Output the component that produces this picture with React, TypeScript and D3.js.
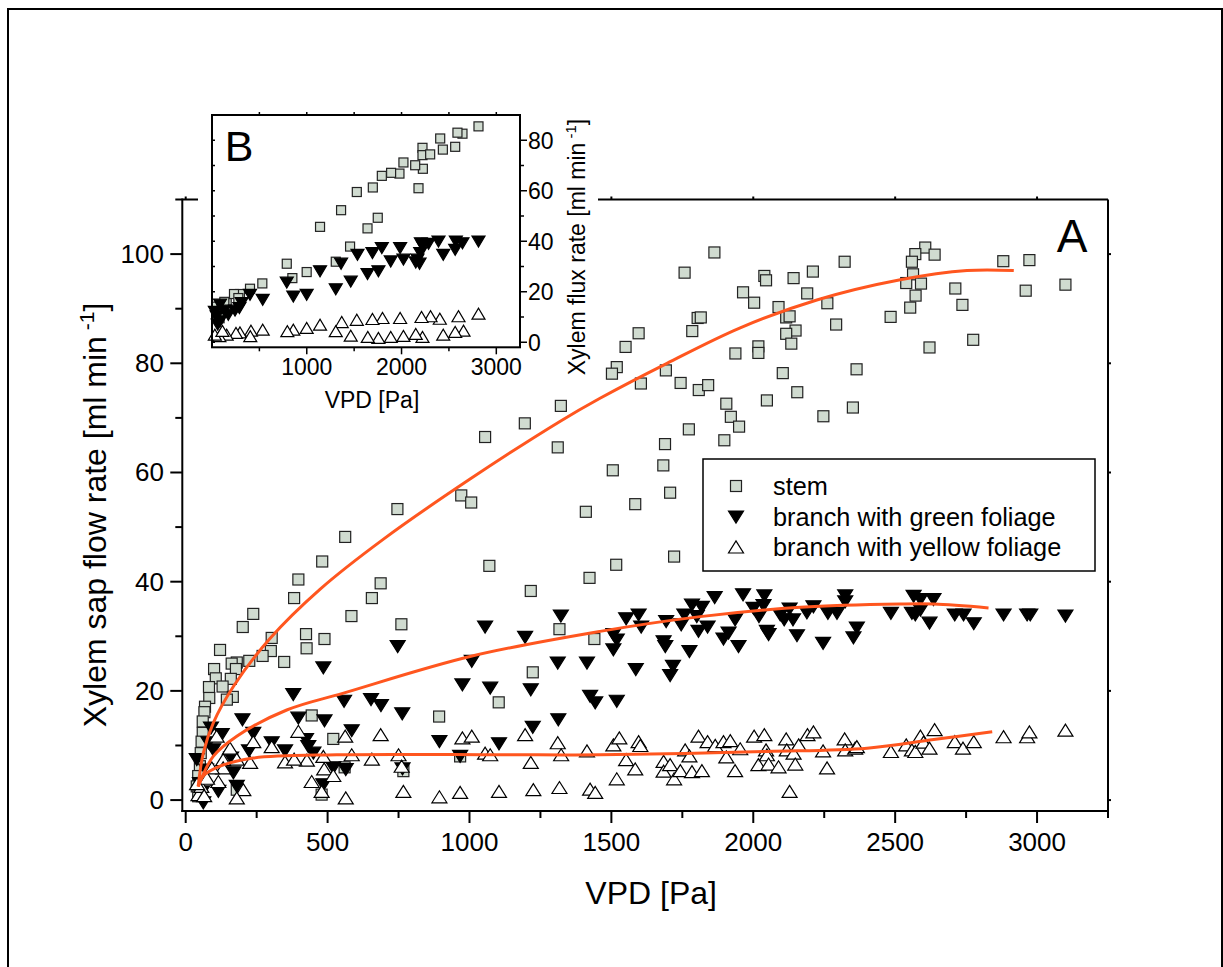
import React from "react";
import * as d3 from "d3";

// ---------- main panel (A) data: [VPD Pa, sap flow ml/min] ----------
const stemMain: [number, number][] = [
  [1519,79.3],[1502,78.1],[1322,72.2],[1195,69.0],[1311,64.6],[1055,66.5],[1505,60.4],[971,55.8],[1006,54.5],[1410,52.8],[746,53.3],[562,48.2],
  [481,43.7],[397,40.4],[382,37.0],[238,34.1],[201,31.7],[121,27.5],[687,39.7],[656,37.0],[584,33.7],[760,32.2],[424,30.4],[303,29.7],[489,29.5],[426,27.8],[300,27.3],[271,26.4],[347,25.3],[224,25.5],[180,25.2],[162,25.0],[177,24.0],[100,24.0],[106,22.3],[159,22.2],[130,20.8],[82,20.7],[166,18.9],[145,18.4],[83,18.7],[68,17.1],[66,16.1],[60,14.4],[60,12.3],[56,10.7],[53,8.6],[50,6.2],[44,4.4],[39,2.5],[44,0.7],[180,1.9],[444,15.5],[520,11.2],[893,15.3],[1070,42.9],[1216,38.3],[1317,31.3],[1223,23.4],[1103,17.9],[1423,40.7],[1440,29.5],[1517,43.1],[967,8.0],[767,5.3],[479,1.0],[560,6.0],
  [1863,100.3],[1758,96.6],[2606,101.2],[2571,100.0],[2639,99.9],[2559,98.6],[2322,98.6],[2881,98.7],[2973,98.9],[3100,94.4],[2960,93.3],[2563,96.3],[2539,94.7],[2591,94.6],[2572,92.4],[2553,90.2],[2484,88.5],[2712,93.7],[2737,90.7],[2775,84.3],[2621,82.9],[2210,96.8],[2142,95.6],[2039,96.0],[2045,95.2],[2190,92.8],[1964,93.0],[2003,91.1],[2261,91.0],[2089,90.3],[2116,88.4],[2128,88.6],[2292,87.1],[1804,88.3],[1815,88.4],[1785,85.9],[2149,86.0],[2116,85.4],[2134,83.6],[1596,85.5],[1550,83.0],[1692,78.7],[1604,76.3],[1744,76.4],[1808,75.1],[1841,76.0],[1937,81.8],[2018,83.1],[2018,81.9],[2104,78.2],[2364,78.9],[2155,74.7],[1905,72.6],[1921,70.2],[1950,68.4],[1898,65.9],[2048,73.2],[2247,70.3],[2351,71.9],[1773,67.9],[1689,65.2],[1683,61.3],[1707,56.3],[1584,54.2],[1721,44.6]
];
const greenMain: [number, number][] = [
  [1322,33.7],[1055,31.7],[747,28.1],[1196,29.8],[1507,30.3],[1507,27.5],[485,24.2],[1008,25.4],[1311,25.1],[1414,25.1],[975,21.1],[1073,20.5],[1216,20.2],[379,19.3],[558,18.1],[653,18.4],[688,17.3],[763,15.8],[1425,19.0],[1443,17.8],[1519,18.1],[200,14.7],[397,15.0],[489,14.5],[585,12.7],[1313,14.7],[1223,13.3],[894,10.7],[1104,10.3],[238,12.2],[127,12.0],[89,13.2],[303,10.5],[350,9.0],[424,11.1],[432,9.8],[450,8.6],[223,9.0],[97,9.2],[160,7.7],[168,5.0],[115,1.6],[180,2.5],[485,2.8],[520,5.9],[564,5.6],[764,5.7],[967,8.0],[62,-0.5],[39,7.4],[50,3.0],[72,5.5],[80,10.5],[58,1.5],
  [1586,23.9],[1717,24.5],[1707,22.8],[1519,29.3],[1552,33.2],[1596,33.9],[1605,31.7],[1684,29.0],[1690,28.1],[1693,32.7],[1746,32.1],[1757,33.9],[1775,27.2],[1784,35.7],[1807,30.9],[1801,33.6],[1819,35.3],[1839,31.7],[1864,37.1],[1895,29.5],[1913,30.6],[1948,28.1],[1936,33.0],[1964,37.6],[2001,35.1],[2020,33.6],[2039,37.4],[2036,35.6],[2048,30.9],[2054,30.3],[2095,33.9],[2109,33.0],[2128,35.0],[2140,33.0],[2154,30.1],[2189,34.3],[2212,35.4],[2246,28.7],[2263,34.2],[2295,34.2],[2324,37.4],[2324,36.3],[2365,31.5],[2353,29.7],[2485,34.2],[2559,34.2],[2565,37.3],[2589,36.7],[2635,36.7],[2589,34.8],[2571,33.9],[2621,32.4],[2710,33.9],[2741,33.9],[2777,32.3],[2882,33.9],[2965,33.9],[2976,33.9],[3100,33.7]
];
const yellowMain: [number, number][] = [
  [687,12.0],[397,12.6],[562,11.7],[975,11.4],[1008,11.7],[1196,12.0],[1311,10.5],[1414,9.0],[1507,10.1],[1055,8.6],[1073,8.3],[1323,8.3],[1216,6.9],[750,8.3],[761,6.2],[656,7.5],[585,8.3],[485,8.0],[427,7.3],[350,7.0],[382,7.5],[303,9.8],[238,10.7],[227,6.9],[156,9.5],[180,7.5],[132,7.4],[132,5.9],[92,5.9],[115,3.4],[488,5.7],[520,4.5],[444,3.4],[479,1.6],[564,0.4],[767,1.6],[894,0.6],[967,1.4],[1104,1.6],[1225,1.9],[1317,2.3],[1425,2.0],[1443,1.4],[1519,3.9],[203,1.9],[180,0.4],[109,11.7],[45,1.0],[55,2.5],[65,0.8],[75,4.0],[40,3.0],
  [1528,11.4],[1552,7.4],[1584,5.7],[1596,10.7],[1602,10.0],[1684,7.1],[1684,5.3],[1707,6.5],[1721,3.9],[1743,5.4],[1760,9.2],[1775,8.1],[1784,5.2],[1807,11.7],[1819,5.4],[1839,10.7],[1866,10.0],[1895,10.7],[1919,10.9],[1905,7.9],[1936,5.4],[1954,9.4],[2003,11.7],[2039,12.0],[2018,6.5],[2045,9.2],[2048,8.3],[2054,6.6],[2089,6.1],[2116,11.2],[2118,9.2],[2142,8.6],[2148,6.6],[2128,1.6],[2160,10.1],[2191,12.0],[2212,12.5],[2246,9.0],[2260,5.9],[2322,11.2],[2324,9.2],[2359,9.5],[2365,9.8],[2485,8.9],[2539,10.1],[2559,9.2],[2571,8.9],[2589,11.7],[2600,10.6],[2621,9.5],[2639,12.9],[2710,10.7],[2739,9.5],[2777,10.7],[2882,11.6],[2965,11.6],[2973,12.5],[3100,12.8]
];
const stemFit: [number, number][] = [[44,2.5],[62,8.6],[97,14.1],[168,20.8],[297,29.6],[473,38.6],[697,47.8],[1002,58.8],[1320,69.4],[1460,73.6],[1696,80.0],[1954,86.5],[2224,91.6],[2518,95.3],[2753,97.0],[2918,97.0]];
const greenFit: [number, number][] = [[44,2.5],[97,8.0],[180,11.7],[356,16.5],[556,19.6],[1002,26.3],[1460,30.9],[1813,33.6],[2166,35.3],[2518,35.9],[2636,35.9],[2829,35.2]];
const yellowFit: [number, number][] = [[44,2.5],[62,4.4],[121,6.2],[238,7.7],[532,8.3],[1120,8.3],[1460,8.3],[2048,8.9],[2401,9.5],[2636,11.1],[2842,12.5]];

// ---------- inset (B) data: [VPD Pa, flux ml/min] ----------
const insetStem: [number, number][] = [[2812,85.5],[2643,82.6],[2590,83.0],[2408,80.7],[2436,76.3],[2566,77.4],[2221,77.0],[2221,74.1],[2302,74.4],[2225,68.7],[2144,70.1],[2020,71.2],[1978,66.8],[1890,67.1],[1792,65.9],[1697,61.3],[2179,61.0],[1528,59.5],[1362,52.3],[1749,49.3],[1641,45.1],[1140,45.7],[1457,37.9],[1306,31.9],[789,31.1],[848,25.4],[999,27.8],[531,23.3],[401,21.2],[295,19.1],[232,19.1],[278,17.5],[155,15.5],[49,14.1],[100,13.0],[130,16.0],[60,11.0],[80,9.5]];
const insetGreen: [number, number][] = [[2812,39.9],[2643,39.2],[2573,39.9],[2566,36.6],[2440,34.6],[2390,39.9],[2285,39.0],[2204,39.2],[2225,37.9],[2197,35.3],[2168,32.7],[2190,31.1],[2150,31.6],[2020,32.7],[1985,37.3],[1886,32.0],[1792,37.3],[1693,35.3],[1756,28.1],[1641,27.0],[1535,34.6],[1362,31.1],[1464,24.0],[1306,21.0],[1140,28.1],[999,18.8],[858,18.1],[789,23.6],[535,16.8],[401,18.8],[289,13.5],[313,15.5],[243,12.5],[172,10.9],[85,14.9],[49,10.3],[85,8.3],[30,12.0],[130,12.5],[60,7.0]];
const insetYellow: [number, number][] = [[2812,11.3],[2601,10.3],[2654,4.6],[2566,4.1],[2440,3.0],[2404,9.3],[2306,10.3],[2211,10.0],[2221,2.1],[2150,3.3],[1985,9.6],[2020,2.5],[1886,2.1],[1799,9.6],[1693,9.2],[1756,1.7],[1644,2.1],[1528,8.9],[1464,2.6],[1369,8.0],[1306,4.4],[1140,7.0],[999,5.7],[858,5.0],[795,4.4],[535,5.0],[411,4.6],[295,3.9],[253,3.7],[155,3.0],[78,2.4],[404,2.4],[30,3.0],[110,4.5]];

const mainXTicks = [0, 500, 1000, 1500, 2000, 2500, 3000];
const mainXMinor = [250, 750, 1250, 1750, 2250, 2750, 3250];
const mainYTicks = [0, 20, 40, 60, 80, 100];
const mainYMinor = [10, 30, 50, 70, 90, 110];
const insetXTicks = [1000, 2000, 3000];
const insetXMinor = [500, 1500, 2500];
const insetYTicks = [0, 20, 40, 60, 80];
const insetYMinor = [10, 30, 50, 70];
const legendLabels = ["stem", "branch with green foliage", "branch with yellow foliage"];

const FONT = "'Liberation Sans', Arial, Helvetica, sans-serif";
const ORANGE = "#ff561f";
const SQ_FILL = "#d0dbd0";

function square(x: number, y: number, s: number, key: string | number) {
  return <rect key={key} x={x - s / 2} y={y - s / 2} width={s} height={s} fill={SQ_FILL} stroke="#222" strokeWidth={1.2} />;
}
function tri(x: number, y: number, w: number, h: number, down: boolean, filled: boolean, key: string | number) {
  const p = d3.path();
  if (down) {
    p.moveTo(x - w / 2, y - h / 2);
    p.lineTo(x + w / 2, y - h / 2);
    p.lineTo(x, y + h / 2);
  } else {
    p.moveTo(x - w / 2, y + h / 2);
    p.lineTo(x + w / 2, y + h / 2);
    p.lineTo(x, y - h / 2);
  }
  p.closePath();
  return <path key={key} d={p.toString()} fill={filled ? "#000" : "#fff"} stroke="#000" strokeWidth={1.2} strokeLinejoin="miter" />;
}

export default function App() {
  const x = d3.scaleLinear().domain([-12, 3250]).range([182.3, 1108]);
  const y = d3.scaleLinear().domain([-2, 110]).range([811, 199.5]);
  const xi = d3.scaleLinear().domain([0, 3250]).range([212, 520]);
  const yi = d3.scaleLinear().domain([-2, 90]).range([347.3, 115]);

  const line = d3.line<[number, number]>().x(d => x(d[0])).y(d => y(d[1])).curve(d3.curveCatmullRom.alpha(0.5));

  const L = x.range()[0], R = x.range()[1], B = y.range()[0], T = y.range()[1];
  const iL = xi.range()[0], iR = xi.range()[1], iB = yi.range()[0], iT = yi.range()[1];

  return (
    <svg width={1223} height={967} style={{ position: "absolute", left: 0, top: 0, background: "#fff" }} fontFamily={FONT}>
      <rect x={0} y={0} width={1223} height={967} fill="#fff" />
      {/* outer frame */}
      <rect x={8} y={9} width={1214} height={1000} fill="none" stroke="#000" strokeWidth={2} />

      {/* main axes box */}
      <g stroke="#000" strokeWidth={2} fill="none">
        <line x1={L} y1={T} x2={R} y2={T} />
        <line x1={R} y1={T} x2={R} y2={B} />
        <line x1={L} y1={T - 1} x2={L} y2={B + 1} />
        <line x1={L - 1} y1={B} x2={R + 1} y2={B} />
      </g>
      <g stroke="#000" strokeWidth={2}>
        {mainXTicks.map(t => <line key={"xt" + t} x1={x(t)} x2={x(t)} y1={B} y2={B + 12} />)}
        {mainXMinor.map(t => <line key={"xm" + t} x1={x(t)} x2={x(t)} y1={B} y2={B + 7} />)}
        {mainXTicks.map(t => <line key={"xtt" + t} x1={x(t)} x2={x(t)} y1={T} y2={T - 3} />)}
        {mainYTicks.map(t => <line key={"yt" + t} x1={L} x2={L - 12} y1={y(t)} y2={y(t)} />)}
        {mainYMinor.map(t => <line key={"ym" + t} x1={L} x2={L - 7} y1={y(t)} y2={y(t)} />)}
        {mainYTicks.map(t => <line key={"ytr" + t} x1={R} x2={R + 3} y1={y(t)} y2={y(t)} />)}
      </g>
      <g fontSize={26} fill="#000">
        {mainXTicks.map(t => <text key={"xl" + t} x={x(t)} y={851} textAnchor="middle">{t}</text>)}
        {mainYTicks.map(t => <text key={"yl" + t} x={164} y={y(t) + 9} textAnchor="end">{t}</text>)}
      </g>
      <text x={(L + R) / 2 + 6} y={904} fontSize={32} textAnchor="middle">VPD [Pa]</text>
      <text transform={`translate(106,515) rotate(-90)`} fontSize={32} textAnchor="middle">
        Xylem sap flow rate [ml min<tspan fontSize={21} dy={-12}> -1</tspan><tspan dy={12}>]</tspan>
      </text>

      {/* main markers */}
      <g>{stemMain.map((d, i) => square(x(d[0]), y(d[1]), 11, "s" + i))}</g>
      <g>{greenMain.map((d, i) => tri(x(d[0]), y(d[1]), 15, 12, true, true, "g" + i))}</g>
      <g>{yellowMain.map((d, i) => tri(x(d[0]), y(d[1]), 15, 12, false, false, "y" + i))}</g>

      {/* fitted curves */}
      <g fill="none" stroke={ORANGE} strokeWidth={3}>
        <path d={line(stemFit) || ""} />
        <path d={line(greenFit) || ""} />
        <path d={line(yellowFit) || ""} />
      </g>

      {/* legend */}
      <rect x={703} y={459} width={392} height={112} fill="#fff" stroke="#000" strokeWidth={1.5} />
      {square(736, 486, 11, "lg0")}
      {tri(736, 517, 15, 12, true, true, "lg1")}
      {tri(736, 547, 15, 12, false, false, "lg2")}
      <g fontSize={25.3}>
        {legendLabels.map((l, i) => <text key={l} x={773} y={[486, 517, 547][i] + 8.5}>{l}</text>)}
      </g>
      <text x={1072} y={252} fontSize={46} textAnchor="middle">A</text>

      {/* inset B */}
      <rect x={198} y={95} width={400} height={290} fill="#fff" />
      <g>{insetStem.map((d, i) => square(xi(d[0]), yi(d[1]), 9, "is" + i))}</g>
      <g>{insetGreen.map((d, i) => tri(xi(d[0]), yi(d[1]), 13, 11, true, true, "ig" + i))}</g>
      <g>{insetYellow.map((d, i) => tri(xi(d[0]), yi(d[1]), 13, 11, false, false, "iy" + i))}</g>
      <rect x={iL} y={iT} width={iR - iL} height={iB - iT} fill="none" stroke="#000" strokeWidth={2} />
      <g stroke="#000" strokeWidth={1.5}>
        {insetXTicks.map(t => <line key={"ixt" + t} x1={xi(t)} x2={xi(t)} y1={iB} y2={iB + 7} />)}
        {insetXMinor.map(t => <line key={"ixm" + t} x1={xi(t)} x2={xi(t)} y1={iB} y2={iB + 4} />)}
        {[...insetXTicks, ...insetXMinor].map(t => <line key={"ixtt" + t} x1={xi(t)} x2={xi(t)} y1={iT} y2={iT - 3} />)}
        {insetYTicks.map(t => <line key={"iyt" + t} x1={iR} x2={iR + 7} y1={yi(t)} y2={yi(t)} />)}
        {insetYMinor.map(t => <line key={"iym" + t} x1={iR} x2={iR + 4} y1={yi(t)} y2={yi(t)} />)}
        {[...insetYTicks, ...insetYMinor].map(t => <line key={"iyl" + t} x1={iL} x2={iL + 3} y1={yi(t)} y2={yi(t)} />)}
      </g>
      <g fontSize={23}>
        {insetXTicks.map(t => <text key={"ixl" + t} x={xi(t)} y={375} textAnchor="middle">{t}</text>)}
        {insetYTicks.map(t => <text key={"iyl" + t} x={528} y={yi(t) + 8.3}>{t}</text>)}
      </g>
      <text x={372} y={408} fontSize={23} textAnchor="middle">VPD [Pa]</text>
      <text transform={`translate(585,247) rotate(-90)`} fontSize={23} textAnchor="middle">
        Xylem flux rate [ml min<tspan fontSize={15} dy={-9}> -1</tspan><tspan dy={9}>]</tspan>
      </text>
      <text x={239} y={161} fontSize={43} textAnchor="middle">B</text>
    </svg>
  );
}
